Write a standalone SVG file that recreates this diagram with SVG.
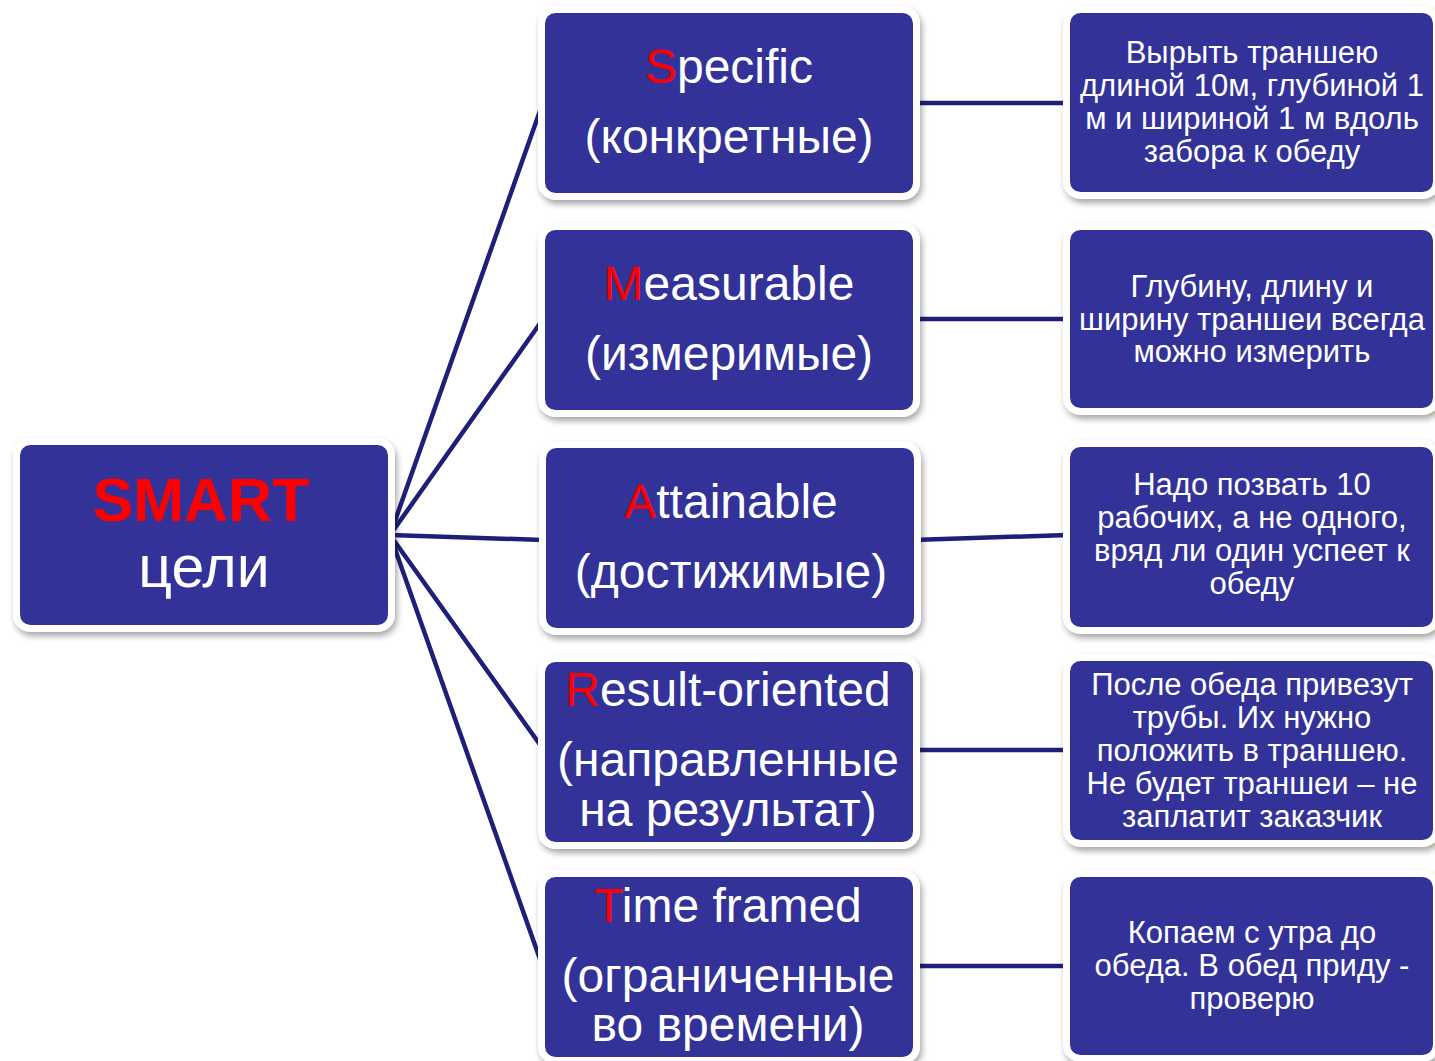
<svg xmlns="http://www.w3.org/2000/svg" width="1435" height="1061" viewBox="0 0 1435 1061">
<defs>
<filter id="sh" x="-10%" y="-10%" width="125%" height="130%">
<feDropShadow dx="2" dy="4" stdDeviation="3" flood-color="#000" flood-opacity="0.35"/>
</filter>
<style>
.box{fill:#333399;stroke:#ffffff;stroke-width:7;filter:url(#sh)}
.con{stroke:#1f1f7a;stroke-width:4.5;fill:none;stroke-linecap:round}
.mid{font-family:"Liberation Sans",Arial,sans-serif;font-size:48px;fill:#ffffff;text-anchor:middle}
.rt{font-family:"Liberation Sans",Arial,sans-serif;font-size:31px;fill:#ffffff;text-anchor:middle}
.red{fill:#ff0000}
</style>
</defs>
<rect width="1435" height="1061" fill="#ffffff"/>
<g id="connectors">
<line class="con" x1="390" y1="535" x2="541" y2="108"/>
<line class="con" x1="390" y1="535" x2="541" y2="322"/>
<line class="con" x1="390" y1="535" x2="543" y2="540"/>
<line class="con" x1="390" y1="535" x2="541" y2="746"/>
<line class="con" x1="390" y1="535" x2="541" y2="962"/>
<line class="con" x1="913" y1="103" x2="1068" y2="103"/>
<line class="con" x1="913" y1="319" x2="1068" y2="319"/>
<line class="con" x1="913" y1="540" x2="1068" y2="535"/>
<line class="con" x1="913" y1="750" x2="1068" y2="750"/>
<line class="con" x1="913" y1="966" x2="1068" y2="966"/>
</g>
<g id="smart">
<rect class="box" x="16.5" y="441.5" width="375" height="187" rx="14"/>
<text x="201" y="521" font-family="Liberation Sans,Arial,sans-serif" font-size="61" font-weight="bold" fill="#ff0000" text-anchor="middle">SMART</text>
<text x="204" y="587" font-family="Liberation Sans,Arial,sans-serif" font-size="59" fill="#ffffff" text-anchor="middle">цели</text>
</g>
<g id="specific">
<rect class="box" x="541.5" y="9.5" width="375" height="187" rx="14"/>
<text class="mid" x="729" y="83"><tspan class="red">S</tspan>pecific</text>
<text class="mid" x="729" y="153">(конкретные)</text>
</g>
<g id="measurable">
<rect class="box" x="541.5" y="226.5" width="375" height="187" rx="14"/>
<text class="mid" x="729" y="300"><tspan class="red">M</tspan>easurable</text>
<text class="mid" x="729" y="370">(измеримые)</text>
</g>
<g id="attainable">
<rect class="box" x="542.5" y="444.5" width="375" height="187" rx="14"/>
<text class="mid" x="731" y="518"><tspan class="red">A</tspan>ttainable</text>
<text class="mid" x="731" y="588">(достижимые)</text>
</g>
<g id="result">
<rect class="box" x="541.5" y="658.5" width="375" height="187" rx="14"/>
<text class="mid" x="728" y="706"><tspan class="red">R</tspan>esult-oriented</text>
<text class="mid" x="728" y="776">(направленные</text>
<text class="mid" x="728" y="826">на результат)</text>
</g>
<g id="timeframed">
<rect class="box" x="541.5" y="873.5" width="375" height="187" rx="14"/>
<text class="mid" x="728" y="922"><tspan class="red">T</tspan>ime framed</text>
<text class="mid" x="728" y="992">(ограниченные</text>
<text class="mid" x="728" y="1041">во времени)</text>
</g>
<g id="r1">
<rect class="box" x="1066.5" y="9.5" width="370" height="186" rx="14"/>
<text class="rt" x="1252" y="63">Вырыть траншею</text>
<text class="rt" x="1252" y="96">длиной 10м, глубиной 1</text>
<text class="rt" x="1252" y="129">м и шириной 1 м вдоль</text>
<text class="rt" x="1252" y="162">забора к обеду</text>
</g>
<g id="r2">
<rect class="box" x="1066.5" y="226.5" width="370" height="185" rx="14"/>
<text class="rt" x="1252" y="297">Глубину, длину и</text>
<text class="rt" x="1252" y="330">ширину траншеи всегда</text>
<text class="rt" x="1252" y="362">можно измерить</text>
</g>
<g id="r3">
<rect class="box" x="1066.5" y="443.5" width="370" height="187" rx="14"/>
<text class="rt" x="1252" y="495">Надо позвать 10</text>
<text class="rt" x="1252" y="528">рабочих, а не одного,</text>
<text class="rt" x="1252" y="561">вряд ли один успеет к</text>
<text class="rt" x="1252" y="594">обеду</text>
</g>
<g id="r4">
<rect class="box" x="1066.5" y="657.5" width="370" height="186" rx="14"/>
<text class="rt" x="1252" y="695">После обеда привезут</text>
<text class="rt" x="1252" y="728">трубы. Их нужно</text>
<text class="rt" x="1252" y="761">положить в траншею.</text>
<text class="rt" x="1252" y="794">Не будет траншеи – не</text>
<text class="rt" x="1252" y="827">заплатит заказчик</text>
</g>
<g id="r5">
<rect class="box" x="1066.5" y="873.5" width="370" height="185" rx="14"/>
<text class="rt" x="1252" y="943">Копаем с утра до</text>
<text class="rt" x="1252" y="976">обеда. В обед приду -</text>
<text class="rt" x="1252" y="1009">проверю</text>
</g>
</svg>
